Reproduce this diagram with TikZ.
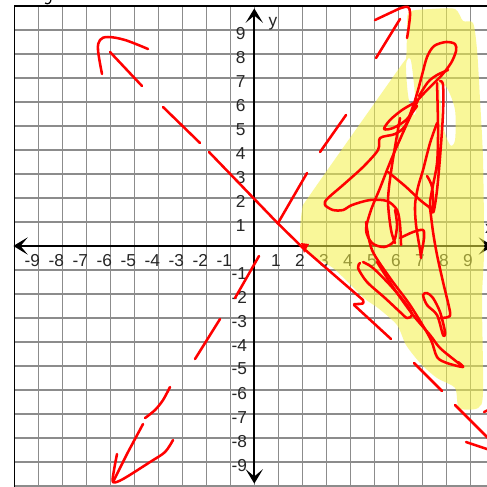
\documentclass[tikz,border=0pt]{standalone}
\usepackage{fontspec}
\setmainfont{Liberation Sans}
\usetikzlibrary{arrows.meta}
\begin{document}
\begin{tikzpicture}[
  gridline/.style={draw=black!45, line width=1.6pt},
  axisline/.style={draw=black, line width=2.2pt},
  lbl/.style={font=\fontsize{20.5}{20.5}\selectfont, inner sep=0pt, text=black!85},
  pen/.style={draw=red, line width=3pt, line cap=round, line join=round},
  hilite/.style={fill={rgb,255:red,245;green,242;blue,70}, fill opacity=0.55},
  axtip/.style={-{Stealth[length=0.6cm,width=0.72cm,inset=0.3cm]}}
]
\useasboundingbox (-10.596,-10.042) rectangle (9.696,10.25);
\clip (-10.596,-10.042) rectangle (9.696,10.25);
\fill[white] (-10.596,-10.042) rectangle (9.696,10.25);
% grid
\foreach \k in {-9,...,9} \draw[gridline] (\k,-10.2) -- (\k,10);
\foreach \k in {-10,...,9} \draw[gridline] (-10,\k) -- (9.8,\k);
% frame
\draw[axisline, line width=1.8pt] (-10,-10.2) -- (-10,10) -- (9.8,10);
% axes
\coordinate (xl) at (-10.04,0);
\coordinate (xr) at (9.95,0);
\coordinate (yb) at (0,-9.9);
\coordinate (yt) at (0,9.9);
\draw[axisline, axtip] (0,0) -- (xl);
\draw[axisline, axtip] (0,0) -- (xr);
\draw[axisline, axtip] (0,0) -- (yt);
\draw[axisline, axtip] (0,0) -- (yb);
% labels
\foreach \n in {1,...,9} \node[lbl] (px\n) at (\n-0.1,-0.6) {\n};
\foreach \n in {-9,...,-1} \node[lbl, anchor=east] (nx\n) at (\n+0.08,-0.6) {\n};
\foreach \n in {1,...,9} \node[lbl, anchor=east] (py\n) at (-0.36,\n-0.15) {\n};
\foreach \n in {-9,...,-1} \node[lbl, anchor=east] (ny\n) at (-0.3,\n-0.13) {\n};
\node[lbl] (ylab) at (0.78,9.25) {y};
\node[lbl] (xlab) at (9.8,0.72) {x};
% pixel scope
\begin{scope}[shift={(-10.596,10.25)}, x=0.0416667cm, y=-0.0416667cm]
  % top-left fragment
  \draw[black, line width=1.4pt] (51,-1) .. controls (51,3) and (48,5) .. (45,3);
  % highlight
  \fill[hilite, even odd rule] plot[smooth cycle, tension=0.45] coordinates {
    (409,12) (432,9) (455,9) (463,21) (473,23) (477,50) (480,100) (483,160)
    (484,250) (482,300) (483,392) (478,408) (459,408) (455,388) (437,378)
    (421,364) (406,345) (397,325) (378,308) (364,298) (333,268) (302,248)
    (302,210) (312,192) (400,67) (406,58) (407,30)}
    plot[smooth cycle, tension=0.5] coordinates {(440,86) (447,88) (455,110) (455,140) (450,145) (443,125)}
    plot[smooth cycle, tension=0.5] coordinates {(406,64) (411,61) (416,108) (413,114) (408,95)};
  % dashed line 1 (slope -1)
  \draw[pen] plot[smooth, tension=0.6] coordinates {(102,74) (98,50) (100,40) (108,37) (125,40) (148,49)};
  \draw[pen] (110,52) -- (142,86);
  \draw[pen] (163,107) -- (200,143);
  \draw[pen] (209,152) -- (277.5,223) -- (303,248) -- (363,300) .. controls (364,304) .. (354,304);
  \fill[red] (301,243) -- (309,244) -- (304,253) -- cycle;
  \draw[pen] (354,305) -- (391,339);
  \draw[pen] (414,363) -- (442,391);
  \draw[pen] (455,405) -- (490,440);
  \draw[pen] (466,442) -- (490,450);
  \draw[pen] (484,412) -- (490,409);
  % dashed line 2
  \draw[pen] plot[smooth, tension=0.6] coordinates {(375,20) (392,12) (401,8) (408,7) (410,13) (409,25) (407,38)};
  \draw[pen] (400,19) -- (376,58);
  \draw[pen] (346,115) -- (320,152);
  \draw[pen] (307,173) -- (278,223);
  \draw[pen] (259,256) -- (235,298);
  \draw[pen] (220,319) -- (195,359);
  \draw[pen] plot[smooth] coordinates {(170,387) (163,400) (155,410) (145,418)};
  \draw[pen] (143,424) -- (128,452) -- (113,482);
  \draw[pen] plot[smooth, tension=0.5] coordinates {(117,454) (114,470) (113,482) (123,479) (150,462) (165,452) (173,440)};
  % scribble
  \draw[pen] plot[smooth] coordinates {(413,107) (418,90) (422,75) (427,57) (434,46) (446,42) (455,44) (456,51) (451,63) (441,76) (427,90) (414,104)};
  \draw[pen] plot[smooth] coordinates {(448,70) (437,75) (428,82) (419,96)};
  \draw[pen] plot[smooth] coordinates {(414,103) (402,110) (390,120) (384,129) (393,128) (406,120) (417,106)};
  \draw[pen] plot[smooth] coordinates {(413,106) (405,126) (395,134) (380,138) (378,150) (363,167) (343,185) (327,199) (325,205) (333,210) (343,210) (352,205) (370,200) (387,201) (397,210) (400,225) (401,245)};
  \draw[pen] plot[smooth] coordinates {(418,100) (405,128) (391,160) (380,188) (371,210) (366,230) (372,243) (384,247) (394,241) (397,225) (395,210)};
  \draw[pen] plot[smooth] coordinates {(400,118) (392,165) (388,200) (391,230) (395,243)};
  \draw[pen] plot[smooth] coordinates {(388,172) (405,186) (420,200) (429,207) (433,210) (432,187) (427,176)};
  \draw[pen] plot[smooth] coordinates {(437,83) (438,130) (437,163) (432,190) (430,203) (432,212) (434,210) (437,190) (440,157) (443,113) (443,85) (440,81)};
  \draw[pen] plot[smooth] coordinates {(437,123) (430,143) (423,170) (418,187) (415,205) (416,225) (420,250) (421,258)};
  \draw[pen] plot[smooth] coordinates {(400,238) (413,232) (423,230) (424,238) (421,255)};
  \draw[pen] plot[smooth] coordinates {(360,263) (358,268) (367,282) (385,298) (400,312) (407,318) (412,315) (407,305) (390,285) (373,268) (363,262)};
  \draw[pen] plot[smooth] coordinates {(366,222) (372,250) (390,278) (410,305) (430,338) (437,357) (447,363) (463,367) (458,362)};
  \draw[pen] plot[smooth] coordinates {(377,262) (395,290) (413,315) (430,335) (440,348) (457,362) (463,367)};
  \draw[pen] plot[smooth cycle] coordinates {(423,295) (427,305) (437,315) (443,335) (445,332) (440,312) (433,298) (427,293)};
  \draw[pen] plot[smooth] coordinates {(430,208) (433,232) (437,255) (443,282) (450,312) (448,317) (440,318)};
\end{scope}
\end{tikzpicture}
\end{document}
